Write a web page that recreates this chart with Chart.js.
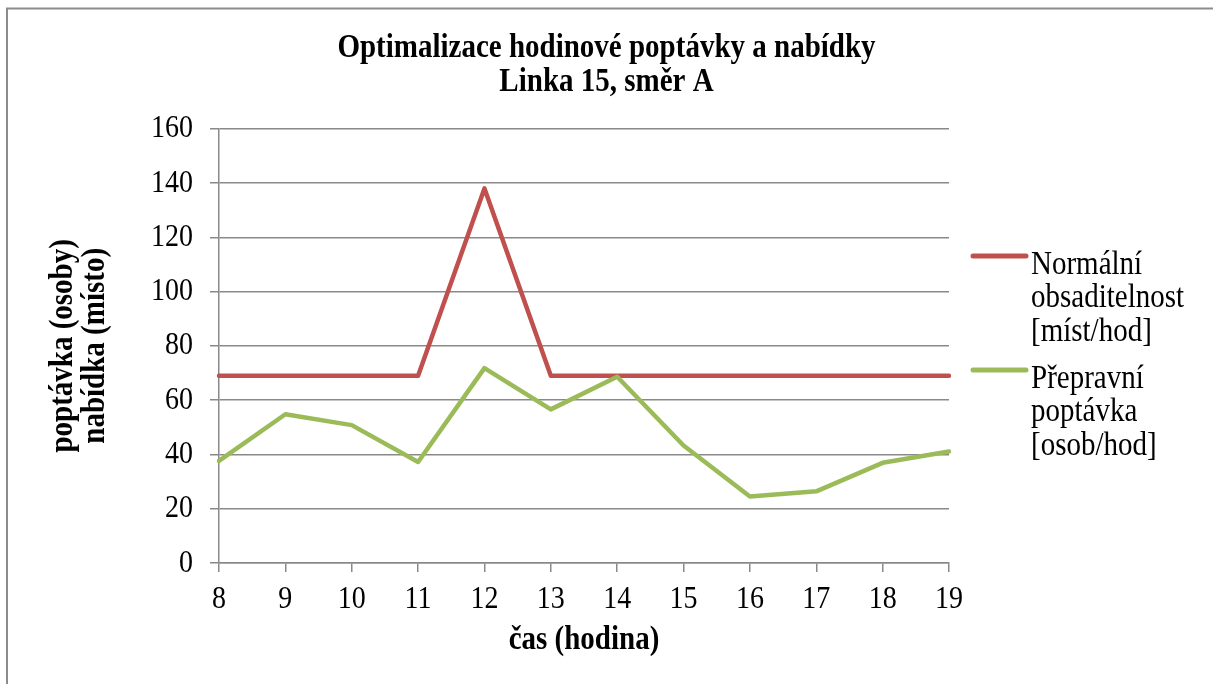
<!DOCTYPE html>
<html>
<head>
<meta charset="utf-8">
<script src="https://cdn.jsdelivr.net/npm/chart.js@4.4.1/dist/chart.umd.min.js"></script>
<style>
  html, body { margin: 0; padding: 0; background: #ffffff; }
  canvas { display: block; }
</style>
</head>
<body>
<canvas id="chart" width="1213" height="684"></canvas>
<script>
// Hours of the day (category axis)
const hours = ['8', '9', '10', '11', '12', '13', '14', '15', '16', '17', '18', '19'];

// Normal seat capacity offered per hour [míst/hod]
const capacity = [69, 69, 69, 69, 138, 69, 69, 69, 69, 69, 69, 69];

// Passenger demand per hour [osob/hod]
const demand = [37.6, 54.8, 50.8, 37.2, 71.8, 56.6, 68.6, 43.3, 24.5, 26.4, 36.9, 41.1];

// Value axis range and step
const yMin = 0;
const yMax = 160;
const yStep = 20;

// Series names, one entry per legend line
const capacityName = ['Normální', 'obsaditelnost', '[míst/hod]'];
const demandName = ['Přepravní', 'poptávka', '[osob/hod]'];

// Titles
const chartTitle = ['Optimalizace hodinové poptávky a nabídky', 'Linka 15, směr A'];
const xTitle = 'čas (hodina)';
const yTitle = ['poptávka (osoby)', 'nabídka (místo)'];

const RED = '#C0504D';
const GREEN = '#9BBB59';
const GRID = '#898989';
const SERIF = "'Liberation Serif', 'Times New Roman', serif";
const TEXT_STRETCH = 1.16;

const canvas = document.getElementById('chart');
const ctx = canvas.getContext('2d');

// Draw all text a little taller than the typeface's natural proportions
const plainFillText = ctx.fillText.bind(ctx);
ctx.fillText = function (text, x, y, maxWidth) {
  this.save();
  this.translate(x, y);
  this.scale(1, TEXT_STRETCH);
  if (maxWidth === undefined) plainFillText(text, 0, 0);
  else plainFillText(text, 0, 0, maxWidth);
  this.restore();
};

// Outer frame: top and left edges
const framePlugin = {
  id: 'frame',
  beforeDraw(chart) {
    const c = chart.ctx;
    c.save();
    c.fillStyle = '#ffffff';
    c.fillRect(0, 0, chart.width, chart.height);
    c.strokeStyle = '#8c8c8c';
    c.lineWidth = 2;
    c.beginPath();
    c.moveTo(7, chart.height);
    c.lineTo(7, 8.5);
    c.lineTo(chart.width, 8.5);
    c.stroke();
    c.restore();
  }
};

// Right-hand legend with multi-line series names
const sideLegend = {
  id: 'sideLegend',
  afterDraw(chart) {
    const c = chart.ctx;
    const x0 = chart.chartArea.right + 24;
    const lineLen = 53;
    const textX = x0 + lineLen + 5;
    const lineGap = 33.5;
    const baselines = [273.5, 387.5];
    chart.data.datasets.forEach((ds, i) => {
      const base = baselines[i];
      c.save();
      c.strokeStyle = ds.borderColor;
      c.lineWidth = 5;
      c.lineCap = 'round';
      c.beginPath();
      c.moveTo(x0, base - 17.5);
      c.lineTo(x0 + lineLen, base - 17.5);
      c.stroke();
      c.fillStyle = '#000000';
      c.font = '29px ' + SERIF;
      c.textAlign = 'left';
      c.textBaseline = 'alphabetic';
      ds.legendLines.forEach((t, k) => c.fillText(t, textX, base + k * lineGap));
      c.restore();
    });
  }
};

new Chart(ctx, {
  type: 'line',
  data: {
    labels: hours,
    datasets: [
      {
        label: capacityName.join(' '),
        legendLines: capacityName,
        data: capacity,
        borderColor: RED,
        backgroundColor: RED,
        borderWidth: 4.5,
        borderJoinStyle: 'round',
        borderCapStyle: 'round',
        pointRadius: 0,
        tension: 0,
        order: 1
      },
      {
        label: demandName.join(' '),
        legendLines: demandName,
        data: demand,
        borderColor: GREEN,
        backgroundColor: GREEN,
        borderWidth: 4.5,
        borderJoinStyle: 'round',
        borderCapStyle: 'round',
        pointRadius: 0,
        tension: 0,
        order: 0
      }
    ]
  },
  options: {
    responsive: false,
    animation: false,
    devicePixelRatio: 1,
    layout: { padding: { left: 0, right: 0, top: 32, bottom: 0 } },
    plugins: {
      legend: { display: false },
      tooltip: { enabled: false },
      title: {
        display: true,
        text: chartTitle,
        color: '#000000',
        font: { family: SERIF, size: 29, weight: 'bold', lineHeight: 1.15 },
        padding: { top: 0, bottom: 30 }
      }
    },
    scales: {
      x: {
        type: 'category',
        offset: false,
        grid: {
          drawOnChartArea: false,
          drawTicks: true,
          tickLength: 9,
          color: GRID,
          lineWidth: 1.5
        },
        border: { display: true, color: GRID, width: 1.5 },
        ticks: {
          color: '#000000',
          font: { family: SERIF, size: 28, lineHeight: 1.2 },
          padding: 11,
          maxRotation: 0,
          autoSkip: false
        },
        title: {
          display: true,
          text: xTitle,
          color: '#000000',
          font: { family: SERIF, size: 29, weight: 'bold', lineHeight: 1.14 },
          padding: { top: 0, bottom: 27 }
        },
        afterFit(scale) { scale.height = 121; }
      },
      y: {
        min: yMin,
        max: yMax,
        grid: {
          drawOnChartArea: true,
          drawTicks: true,
          tickLength: 9,
          color: GRID,
          lineWidth: 1.5
        },
        border: { display: true, color: GRID, width: 1.5 },
        ticks: {
          stepSize: yStep,
          color: '#000000',
          font: { family: SERIF, size: 28, lineHeight: 1.2 },
          padding: 17
        },
        title: {
          display: true,
          text: yTitle,
          color: '#000000',
          font: { family: SERIF, size: 29, weight: 'bold', lineHeight: 1.12 },
          padding: { top: 47, bottom: 0 }
        },
        afterFit(scale) { scale.width = 219; }
      },
      // Empty right-hand axis that reserves the legend column
      legendSpace: {
        type: 'linear',
        position: 'right',
        display: true,
        grid: { display: false, drawTicks: false },
        border: { display: false },
        ticks: { display: false },
        afterFit(scale) { scale.width = 264; }
      }
    }
  },
  plugins: [framePlugin, sideLegend]
});
</script>
</body>
</html>
